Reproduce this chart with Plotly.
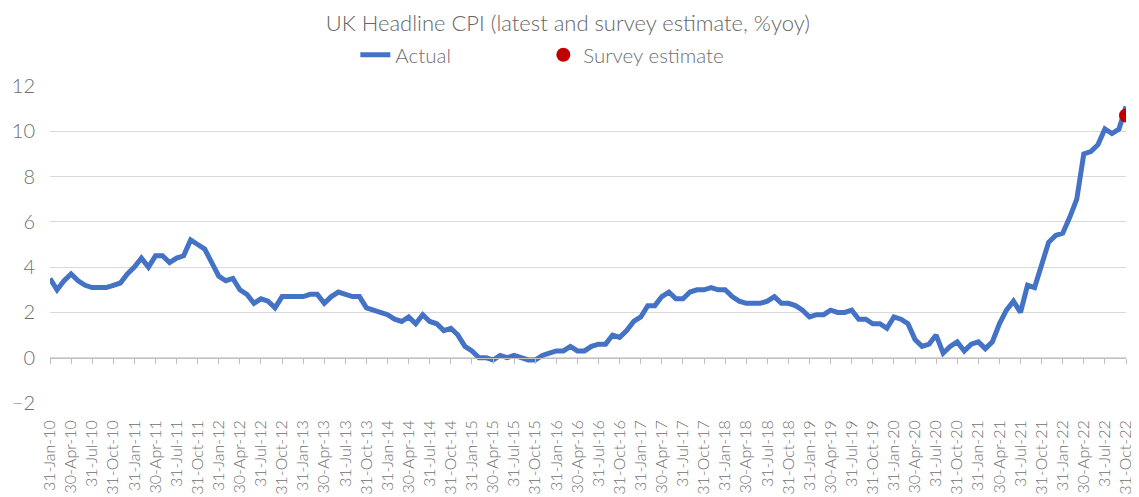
import pandas as pd
import plotly.graph_objects as go

# Month-end category labels, Jan-2010 .. Oct-2022
months = pd.date_range("2010-01-31", periods=154, freq="ME").strftime("%d-%b-%y").tolist()

cpi_actual = [
    3.5, 3.0, 3.4, 3.7, 3.4, 3.2, 3.1, 3.1, 3.1, 3.2, 3.3, 3.7,   # 2010
    4.0, 4.4, 4.0, 4.5, 4.5, 4.2, 4.4, 4.5, 5.2, 5.0, 4.8, 4.2,   # 2011
    3.6, 3.4, 3.5, 3.0, 2.8, 2.4, 2.6, 2.5, 2.2, 2.7, 2.7, 2.7,   # 2012
    2.7, 2.8, 2.8, 2.4, 2.7, 2.9, 2.8, 2.7, 2.7, 2.2, 2.1, 2.0,   # 2013
    1.9, 1.7, 1.6, 1.8, 1.5, 1.9, 1.6, 1.5, 1.2, 1.3, 1.0, 0.5,   # 2014
    0.3, 0.0, 0.0, -0.1, 0.1, 0.0, 0.1, 0.0, -0.1, -0.1, 0.1, 0.2,  # 2015
    0.3, 0.3, 0.5, 0.3, 0.3, 0.5, 0.6, 0.6, 1.0, 0.9, 1.2, 1.6,   # 2016
    1.8, 2.3, 2.3, 2.7, 2.9, 2.6, 2.6, 2.9, 3.0, 3.0, 3.1, 3.0,   # 2017
    3.0, 2.7, 2.5, 2.4, 2.4, 2.4, 2.5, 2.7, 2.4, 2.4, 2.3, 2.1,   # 2018
    1.8, 1.9, 1.9, 2.1, 2.0, 2.0, 2.1, 1.7, 1.7, 1.5, 1.5, 1.3,   # 2019
    1.8, 1.7, 1.5, 0.8, 0.5, 0.6, 1.0, 0.2, 0.5, 0.7, 0.3, 0.6,   # 2020
    0.7, 0.4, 0.7, 1.5, 2.1, 2.5, 2.0, 3.2, 3.1, 4.2, 5.1, 5.4,   # 2021
    5.5, 6.2, 7.0, 9.0, 9.1, 9.4, 10.1, 9.9, 10.1, 11.1,          # 2022
]

survey_month = ["31-Oct-22"]
survey_value = [10.7]

tick_labels = months[::3]
y_ticks = [-2, 0, 2, 4, 6, 8, 10, 12]

GREY = "#6f6f6f"
FONT = "Lato"

fig = go.Figure()
fig.add_trace(go.Scatter(
    x=months, y=cpi_actual, mode="lines", name="Actual",
    line=dict(color="#4472C4", width=5),
))
fig.add_trace(go.Scatter(
    x=survey_month, y=survey_value, mode="markers", name="Survey estimate",
    marker=dict(color="#C00000", size=14),
))
# helper trace for the zero-crossing axis with tick marks
fig.add_trace(go.Scatter(
    x=months, y=[None] * len(months), xaxis="x2", showlegend=False,
    hoverinfo="skip", mode="lines",
))

fig.update_layout(
    width=1131, height=489,
    margin=dict(l=42, r=13, t=78, b=94),
    paper_bgcolor="white", plot_bgcolor="white",
    font=dict(family=FONT, color=GREY, size=16, weight=300),
    title=dict(
        text="UK Headline CPI (latest and survey estimate, %yoy)",
        x=0.495, xanchor="center", y=0.968, yanchor="middle",
        font=dict(size=22, color="#666666", family=FONT, weight=300),
    ),
    legend=dict(
        orientation="h", x=0.4585, xanchor="center", y=1.098, yanchor="middle",
        font=dict(size=20.5, color=GREY, family=FONT, weight=300),
        entrywidth=143, entrywidthmode="pixels",
        bgcolor="rgba(0,0,0,0)",
    ),
    xaxis=dict(
        type="category", categoryorder="array", categoryarray=months,
        range=[0, len(months) - 1], automargin=False,
        tickmode="array", tickvals=tick_labels, ticktext=tick_labels,
        tickangle=-90, tickfont=dict(size=16, color=GREY, family=FONT, weight=300),
        showgrid=False, showline=False, zeroline=False, ticks="",
        ticklabelstandoff=13,
    ),
    xaxis2=dict(
        type="category", categoryorder="array", categoryarray=months,
        overlaying="x", matches="x", anchor="free", position=2 / 14,
        range=[0, len(months) - 1],
        tickmode="array", tickvals=tick_labels,
        showticklabels=False, ticks="outside", ticklen=5, tickcolor="#bfbfbf",
        showline=True, linecolor="#bfbfbf", linewidth=1, showgrid=False,
        zeroline=False,
    ),
    yaxis=dict(
        range=[-2, 12], tickvals=y_ticks, automargin=False,
        tickfont=dict(size=20, color=GREY, family=FONT, weight=300),
        showgrid=True, gridcolor="#d9d9d9", gridwidth=1,
        zeroline=False, showline=False, ticks="", ticklabelstandoff=14,
    ),
)

fig.write_html("out.html")
